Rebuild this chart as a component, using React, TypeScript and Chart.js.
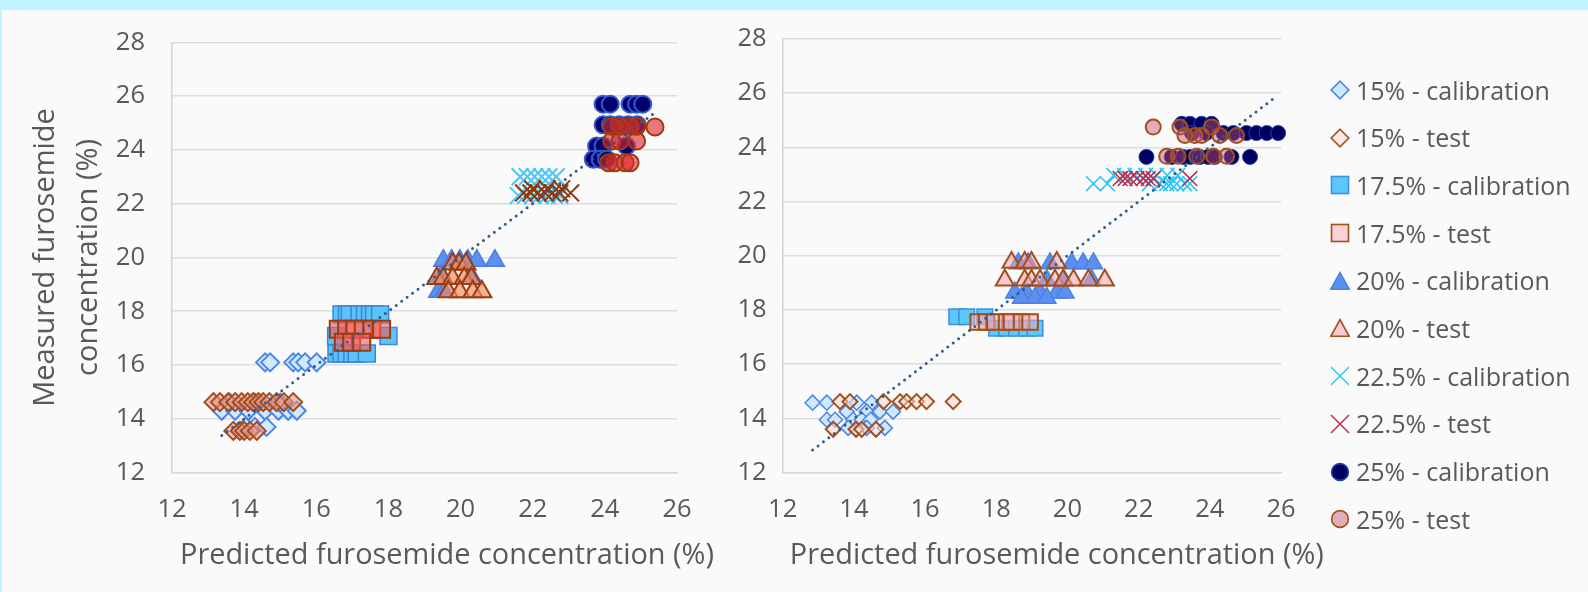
import React, { useEffect, useRef } from 'react';
import { Chart, registerables } from 'chart.js';

Chart.register(...registerables);

type Pt = [number, number];

// ---------- labels & axes ----------
const seriesLabels = [
  '15% - calibration', '15% - test',
  '17.5% - calibration', '17.5% - test',
  '20% - calibration', '20% - test',
  '22.5% - calibration', '22.5% - test',
  '25% - calibration', '25% - test',
];
const xAxisTitle = 'Predicted furosemide concentration (%)';
const yAxisTitle = ['Measured furosemide', 'concentration (%)'];
const xMin = 12, xMax = 26, yMin = 12, yMax = 28, tickStep = 2;

// ---------- left chart data ----------
const leftCal15: Pt[] = [
  [14.58, 16.1], [14.72, 16.1], [15.36, 16.1], [15.5, 16.1], [15.69, 16.1], [16.01, 16.1],
  [13.38, 14.3], [13.75, 14.3], [14.12, 14.3], [14.58, 14.3], [14.95, 14.3], [15.22, 14.3], [15.46, 14.3],
  [13.6, 14.6], [14.3, 14.6], [15.0, 14.6],
  [14.05, 13.7], [14.3, 13.7], [14.62, 13.7],
];
const leftTest15: Pt[] = [
  [13.15, 14.62], [13.33, 14.62], [13.56, 14.62], [13.75, 14.62], [13.93, 14.62], [14.1, 14.62], [14.25, 14.62],
  [14.4, 14.62], [14.53, 14.62], [14.7, 14.62], [14.9, 14.62], [15.1, 14.62], [15.36, 14.62],
  [13.7, 13.55], [13.88, 13.55], [14.0, 13.55], [14.16, 13.55], [14.35, 13.55],
];
const leftCal175: Pt[] = [
  [16.7, 17.88], [16.85, 17.88], [16.93, 17.88], [17.2, 17.88], [17.35, 17.88], [17.49, 17.88], [17.6, 17.88], [17.77, 17.88],
  [16.55, 17.08], [18.0, 17.08],
  [16.56, 16.43], [16.7, 16.43], [16.84, 16.43], [17.0, 16.43], [17.12, 16.43], [17.4, 16.43],
];
const leftTest175: Pt[] = [
  [16.61, 17.33], [16.84, 17.33], [17.07, 17.33], [17.3, 17.33], [17.54, 17.33], [17.81, 17.33],
  [16.75, 16.85], [16.98, 16.85], [17.26, 16.85],
];
const leftCal20: Pt[] = [
  [19.52, 19.88], [19.75, 19.88], [19.98, 19.88], [20.2, 19.88], [20.45, 19.88], [20.95, 19.88],
  [19.45, 19.3], [20.3, 19.3],
  [19.38, 18.72], [19.55, 18.72],
];
const leftTest20: Pt[] = [
  [19.78, 19.76], [19.96, 19.76], [20.15, 19.76],
  [19.34, 19.22], [19.52, 19.22], [19.78, 19.22], [20.1, 19.22], [20.3, 19.22],
  [19.66, 18.72], [19.98, 18.72], [20.34, 18.72], [20.59, 18.72],
];
const leftCal225: Pt[] = [
  [21.65, 23.0], [21.85, 23.0], [22.05, 23.0], [22.25, 23.0], [22.45, 23.0], [22.65, 23.0],
  [21.6, 22.3], [21.8, 22.3], [22.0, 22.3], [22.2, 22.3], [22.4, 22.3], [22.6, 22.3], [22.75, 22.3],
];
const leftTest225: Pt[] = [
  [21.75, 22.4], [21.95, 22.4], [22.15, 22.4], [22.35, 22.4], [22.55, 22.4], [22.75, 22.4], [23.05, 22.4],
  [22.0, 22.55], [22.4, 22.55], [22.8, 22.55],
];
const leftCal25: Pt[] = [
  [23.95, 25.7], [24.15, 25.7], [24.7, 25.7], [24.88, 25.7], [25.05, 25.7],
  [23.95, 24.93], [24.15, 24.93], [24.4, 24.93], [24.65, 24.93], [24.9, 24.93],
  [23.77, 24.14], [23.95, 24.14], [24.6, 24.14],
  [23.68, 23.65], [23.87, 23.65], [24.05, 23.65],
];
const leftTest25: Pt[] = [
  [24.19, 24.87], [24.42, 24.87], [24.7, 24.87], [24.88, 24.87], [25.39, 24.85],
  [24.19, 24.33], [24.42, 24.33], [24.88, 24.33],
  [24.1, 23.52], [24.28, 23.52], [24.56, 23.52], [24.7, 23.52],
];
const leftTrend: Pt[] = [[13.38, 13.38], [25.39, 25.39]];

// ---------- right chart data ----------
const rightCal15: Pt[] = [
  [12.84, 14.58], [13.24, 14.58], [14.08, 14.58], [14.5, 14.58],
  [13.8, 14.25], [14.36, 14.25], [14.73, 14.25], [15.1, 14.25],
  [13.24, 13.95], [13.47, 13.95], [13.98, 13.95], [14.22, 13.95], [14.47, 13.95],
  [13.84, 13.65], [14.36, 13.65], [14.87, 13.65],
];
const rightTest15: Pt[] = [
  [13.61, 14.62], [13.89, 14.62], [14.83, 14.62], [15.3, 14.62], [15.48, 14.62], [15.76, 14.62], [16.04, 14.62], [16.79, 14.62],
  [13.42, 13.6], [14.06, 13.6], [14.22, 13.6], [14.62, 13.6],
];
const rightCal175: Pt[] = [
  [16.89, 17.75], [17.17, 17.75], [17.68, 17.75],
  [18.01, 17.33], [18.29, 17.33], [18.57, 17.33], [18.85, 17.33], [19.09, 17.33],
];
const rightTest175: Pt[] = [
  [17.49, 17.56], [17.73, 17.56], [17.96, 17.56], [18.29, 17.56], [18.43, 17.56], [18.71, 17.56], [18.95, 17.56],
];
const rightCal20: Pt[] = [
  [18.62, 19.72], [18.9, 19.72], [19.51, 19.72], [20.12, 19.72], [20.44, 19.72], [20.73, 19.72],
  [19.42, 19.1], [19.9, 19.1], [20.68, 19.1],
  [18.52, 18.64], [18.85, 18.64], [19.23, 18.64], [19.7, 18.64], [19.93, 18.64],
  [18.71, 18.44], [19.09, 18.44], [19.42, 18.44],
];
const rightTest20: Pt[] = [
  [18.43, 19.75], [18.8, 19.75], [18.99, 19.75], [19.7, 19.75],
  [18.24, 19.1], [18.8, 19.1], [18.99, 19.1], [19.23, 19.1], [19.65, 19.1], [19.88, 19.1], [20.17, 19.1], [20.59, 19.1], [21.05, 19.1],
];
const rightCal225: Pt[] = [
  [20.73, 22.66], [21.12, 22.66], [22.3, 22.66], [22.6, 22.66], [22.79, 22.66], [22.9, 22.66], [23.07, 22.66], [23.29, 22.66], [23.44, 22.66],
  [21.3, 22.97], [21.6, 22.97], [21.9, 22.97], [22.2, 22.97], [22.5, 22.97], [22.8, 22.97], [23.1, 22.97],
];
const rightTest225: Pt[] = [
  [21.48, 22.85], [21.62, 22.85], [21.76, 22.85], [21.95, 22.85], [22.13, 22.85], [22.27, 22.85], [22.41, 22.85], [23.44, 22.85],
];
const rightCal25: Pt[] = [
  [23.21, 24.87], [23.44, 24.87], [23.77, 24.87], [24.05, 24.87],
  [23.5, 24.53], [23.9, 24.53], [24.38, 24.53], [24.66, 24.53], [25.03, 24.53], [25.31, 24.53], [25.6, 24.53], [25.92, 24.53],
  [22.22, 23.65], [22.93, 23.65], [23.25, 23.65], [23.45, 23.65], [23.72, 23.65], [23.95, 23.65], [24.14, 23.65], [24.61, 23.65], [25.13, 23.65],
];
const rightTest25: Pt[] = [
  [22.41, 24.75], [23.16, 24.75], [24.05, 24.75],
  [23.3, 24.44], [23.58, 24.44], [23.77, 24.44], [24.28, 24.44], [24.75, 24.44],
  [22.79, 23.67], [23.11, 23.67], [23.63, 23.67], [24.1, 23.67], [24.47, 23.67],
];
const rightTrend: Pt[] = [[12.84, 12.83], [25.78, 25.79]];

const leftSeries = [leftCal15, leftTest15, leftCal175, leftTest175, leftCal20, leftTest20, leftCal225, leftTest225, leftCal25, leftTest25];
const rightSeries = [rightCal15, rightTest15, rightCal175, rightTest175, rightCal20, rightTest20, rightCal225, rightTest225, rightCal25, rightTest25];

// ---------- styles ----------
interface Sty { shape: string; r: number; fill: string; stroke: string; bw: number; }
const BROWN_L = '#9B3C14';
const BROWN_R = '#A0501E';
const leftStyles: Sty[] = [
  { shape: 'rectRot', r: 9, fill: '#D0E9FF', stroke: '#4A86E8', bw: 2 },
  { shape: 'rectRot', r: 9, fill: 'rgba(232,150,135,0.6)', stroke: '#A34A1E', bw: 2 },
  { shape: 'rect', r: 12, fill: '#5CC4F8', stroke: '#3A86DD', bw: 1.5 },
  { shape: 'rect', r: 12, fill: 'rgba(238,95,90,0.6)', stroke: BROWN_L, bw: 2 },
  { shape: 'triangle', r: 11, fill: '#5B8FF0', stroke: '#4A7EE0', bw: 1.5 },
  { shape: 'triangle', r: 11, fill: 'rgba(240,140,90,0.65)', stroke: BROWN_L, bw: 2 },
  { shape: 'crossRot', r: 12, fill: 'rgba(0,0,0,0)', stroke: '#4CC6F4', bw: 2 },
  { shape: 'crossRot', r: 12, fill: 'rgba(0,0,0,0)', stroke: '#8B3A12', bw: 2 },
  { shape: 'circle', r: 8.5, fill: '#00006E', stroke: '#3358D0', bw: 2 },
  { shape: 'circle', r: 8.5, fill: 'rgba(222,40,40,0.62)', stroke: BROWN_L, bw: 2 },
];
const rightStyles: Sty[] = [
  { shape: 'rectRot', r: 7.5, fill: '#CDE8FF', stroke: '#4A86E8', bw: 1.5 },
  { shape: 'rectRot', r: 7.5, fill: 'rgba(250,215,210,0.55)', stroke: BROWN_R, bw: 2 },
  { shape: 'rect', r: 11, fill: '#5AC8FA', stroke: '#3F8EE0', bw: 1.5 },
  { shape: 'rect', r: 11, fill: 'rgba(245,170,180,0.5)', stroke: BROWN_R, bw: 2 },
  { shape: 'triangle', r: 10.5, fill: '#5B8FF0', stroke: '#4C80E4', bw: 1.5 },
  { shape: 'triangle', r: 10.5, fill: 'rgba(245,160,175,0.55)', stroke: BROWN_R, bw: 2 },
  { shape: 'crossRot', r: 10.5, fill: 'rgba(0,0,0,0)', stroke: '#2BC3F3', bw: 1.5 },
  { shape: 'crossRot', r: 10.5, fill: 'rgba(0,0,0,0)', stroke: '#C0284A', bw: 1.5 },
  { shape: 'circle', r: 7.5, fill: '#00005E', stroke: '#2040A8', bw: 1 },
  { shape: 'circle', r: 7.5, fill: 'rgba(200,80,105,0.45)', stroke: BROWN_R, bw: 2 },
];

const FONT = '"Open Sans", sans-serif';
const TEXT = '#595959';
const CH_H = 592;
const PLOT_TOP = 39;
const PLOT_BOTTOM = 472.6;

// Draws the x-axis title below the ticks (it is wider than the plot, so the
// scale's own title would be squeezed to the plot width).
const xTitlePlugin = {
  id: 'xTitleWide',
  afterDraw(chart: any, _args: any, opts: any) {
    const { ctx, chartArea } = chart;
    ctx.save();
    ctx.font = `${opts.size}px ${FONT}`;
    ctx.fillStyle = TEXT;
    ctx.textAlign = 'center';
    ctx.textBaseline = 'middle';
    ctx.fillText(opts.text, (chartArea.left + chartArea.right) / 2 + opts.shift, opts.y);
    ctx.restore();
  },
};

function buildConfig(isLeft: boolean, series: Pt[][], trend: Pt[], styles: Sty[], yAxisWidth: number, padRight: number): any {
  const datasets: any[] = [
    {
      label: 'trend',
      data: trend.map(([x, y]) => ({ x, y })),
      showLine: true,
      borderColor: '#2D5E8C',
      borderWidth: 3,
      borderDash: [0, 6.8],
      borderCapStyle: 'round',
      pointRadius: 0,
      fill: false,
      order: 0,
      clip: false,
    },
  ];
  series.forEach((pts, i) => {
    const s = styles[i];
    datasets.push({
      label: seriesLabels[i],
      data: pts.map(([x, y]) => ({ x, y })),
      showLine: false,
      pointStyle: s.shape,
      pointRadius: s.r,
      pointHoverRadius: s.r,
      pointBackgroundColor: s.fill,
      pointBorderColor: s.stroke,
      pointBorderWidth: s.bw,
      backgroundColor: s.fill,
      borderColor: s.stroke,
      order: 10 - i,
      clip: false,
    });
  });
  return {
    type: 'scatter',
    data: { datasets },
    plugins: [xTitlePlugin],
    options: {
      responsive: false,
      animation: false,
      events: [],
      layout: { padding: { left: 0, top: PLOT_TOP, right: padRight, bottom: 0 } },
      plugins: {
        legend: { display: false },
        tooltip: { enabled: false },
        xTitleWide: { text: xAxisTitle, size: 28.9, y: 556, shift: isLeft ? 22.5 : 25 },
      },
      scales: {
        x: {
          type: 'linear',
          min: xMin,
          max: xMax,
          ticks: { stepSize: tickStep, padding: 21.5, color: TEXT, font: { family: FONT, size: 25.5 } },
          grid: { display: false, drawTicks: false },
          border: { display: true, color: '#D9D9D9', width: 1.5 },
          title: { display: false },
          afterFit: (s: any) => { s.height = CH_H - PLOT_BOTTOM; },
        },
        y: {
          type: 'linear',
          min: yMin,
          max: yMax,
          ticks: { stepSize: tickStep, padding: isLeft ? 27 : 16, color: TEXT, font: { family: FONT, size: 25.5 } },
          grid: { color: '#DCDCDC', lineWidth: 1.5, drawTicks: false },
          border: { display: true, color: '#D4D4D4', width: 1.5 },
          title: isLeft
            ? {
                display: true,
                text: yAxisTitle,
                color: TEXT,
                font: { family: FONT, size: 29, lineHeight: 1.48 },
                padding: { top: 24, bottom: 0 },
              }
            : { display: false },
          afterFit: (s: any) => { s.width = yAxisWidth; },
        },
      },
    },
  };
}

function LegendIcon({ s }: { s: Sty }) {
  let shape: any = null;
  if (s.shape === 'rectRot') shape = <polygon points="10,1.2 18.8,10 10,18.8 1.2,10" fill={s.fill} stroke={s.stroke} strokeWidth={1.6} />;
  else if (s.shape === 'rect') shape = <rect x={1.5} y={1.5} width={17} height={17} fill={s.fill} stroke={s.stroke} strokeWidth={1.6} />;
  else if (s.shape === 'triangle') shape = <polygon points="10,1.6 19.2,18.3 0.8,18.3" fill={s.fill} stroke={s.stroke} strokeWidth={1.6} />;
  else if (s.shape === 'crossRot') shape = (
    <g stroke={s.stroke} strokeWidth={1.5}>
      <line x1={1} y1={1} x2={19} y2={19} />
      <line x1={19} y1={1} x2={1} y2={19} />
    </g>
  );
  else shape = <circle cx={10} cy={10} r={8.4} fill={s.fill} stroke={s.stroke} strokeWidth={1.6} />;
  return <svg width={20} height={20} viewBox="0 0 20 20" style={{ display: 'block', flex: 'none' }}>{shape}</svg>;
}

const LEFT_PAD_R = 55;
const LEFT_W = 677 + LEFT_PAD_R;
const RIGHT_X = 700;
const RIGHT_PAD_R = 60;
const RIGHT_W = 1281 - RIGHT_X + RIGHT_PAD_R;

export default function App() {
  const leftRef = useRef<HTMLCanvasElement>(null);
  const rightRef = useRef<HTMLCanvasElement>(null);

  useEffect(() => {
    const c1 = new Chart(leftRef.current as HTMLCanvasElement, buildConfig(true, leftSeries, leftTrend, leftStyles, 172, LEFT_PAD_R));
    const c2 = new Chart(rightRef.current as HTMLCanvasElement, buildConfig(false, rightSeries, rightTrend, rightStyles, 782.7 - RIGHT_X, RIGHT_PAD_R));
    return () => { c1.destroy(); c2.destroy(); };
  }, []);

  return (
    <div style={{ position: 'fixed', left: 0, top: 0, width: 1588, height: 592, background: '#BFF3FE', overflow: 'hidden' }}>
      <div style={{ position: 'absolute', left: 2, top: 10, right: 0, bottom: 0, background: '#FAFAFA' }} />
      <canvas ref={leftRef} width={LEFT_W} height={CH_H} style={{ position: 'absolute', left: 0, top: 0, width: LEFT_W, height: CH_H }} />
      <canvas ref={rightRef} width={RIGHT_W} height={CH_H} style={{ position: 'absolute', left: RIGHT_X, top: 0, width: RIGHT_W, height: CH_H }} />
      <div style={{ position: 'absolute', left: 1330, top: 66.2 }}>
        {seriesLabels.map((lab, i) => (
          <div key={lab} style={{ height: 47.7, display: 'flex', alignItems: 'center' }}>
            <LegendIcon s={rightStyles[i]} />
            <span style={{ marginLeft: 6, fontFamily: FONT, fontSize: 25, lineHeight: 1, color: TEXT, whiteSpace: 'nowrap' }}>{lab}</span>
          </div>
        ))}
      </div>
    </div>
  );
}
